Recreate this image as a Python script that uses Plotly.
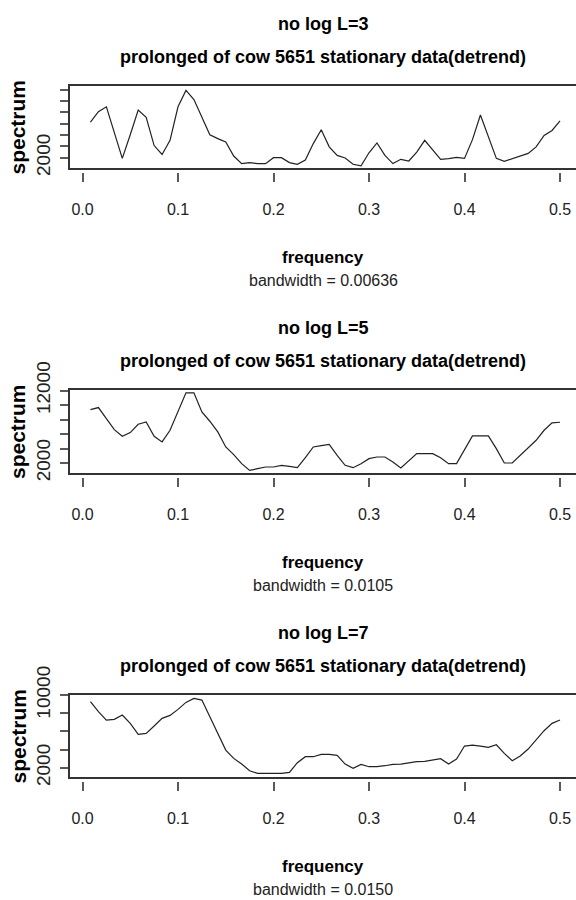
import numpy as np
import plotly.graph_objects as go

# Fourier frequencies k/120, k = 1..60
freq = list(np.arange(1, 61) / 120)

spec_L3 = [8261, 10116, 10985, 6638, 1884, 6058, 10406, 9130, 4145, 2580,
           5072, 10985, 13884, 12261, 9130, 6058, 5362, 4783, 2290, 957,
           1130, 957, 957, 2000, 2000, 1130, 841, 1594, 4493, 6927,
           3913, 2406, 1942, 841, 551, 2870, 4609, 2406, 957, 1710,
           1420, 2985, 5072, 3449, 1710, 1826, 2058, 1884, 5188, 9536,
           5768, 1884, 1362, 1826, 2290, 2754, 3913, 5942, 6812, 8493]

spec_L5 = [9373, 9649, 8129, 6608, 5686, 6193, 7345, 7668, 5686, 4903,
           6516, 9050, 11677, 11677, 9050, 7760, 6285, 4212, 3152, 1908,
           986, 1217, 1447, 1447, 1677, 1539, 1355, 2737, 4212, 4396,
           4580, 3060, 1677, 1355, 1908, 2599, 2829, 2829, 2138, 1309,
           2369, 3290, 3290, 3290, 2737, 1908, 1908, 3751, 5732, 5732,
           5732, 3981, 2000, 2000, 3060, 4212, 5133, 6516, 7530, 7622]

spec_L7 = [9267, 8166, 7248, 7322, 7799, 6881, 5670, 5780, 6588, 7432,
           7762, 8423, 9193, 9634, 9450, 7615, 5670, 3945, 3028, 2404,
           1670, 1376, 1376, 1376, 1376, 1486, 2551, 3211, 3211, 3468,
           3468, 3358, 2404, 1927, 2367, 2110, 2110, 2220, 2367, 2404,
           2551, 2661, 2697, 2881, 2991, 2404, 2954, 4386, 4496, 4386,
           4239, 4532, 3578, 2771, 3285, 4055, 5046, 6074, 6881, 7248]

panel_titles = ["no log L=3", "no log L=5", "no log L=7"]
subtitle = "prolonged of cow 5651 stationary data(detrend)"
bandwidths = ["bandwidth = 0.00636", "bandwidth = 0.0105", "bandwidth = 0.0150"]
x_ticks = [0.0, 0.1, 0.2, 0.3, 0.4, 0.5]
x_ticktext = ["0.0", "0.1", "0.2", "0.3", "0.4", "0.5"]
y_ticks = [[2000, 4000, 6000, 8000, 10000, 12000, 14000],
           [2000, 4000, 6000, 8000, 10000, 12000],
           [2000, 4000, 6000, 8000, 10000]]
y_ticktext = [["2000", "", "", "", "", "", ""],
              ["2000", "", "", "", "", "12000"],
              ["2000", "", "", "", "10000"]]
series = [spec_L3, spec_L5, spec_L7]

# layout geometry (pixels)
W, H = 576, 900
box_left = 70
box_top = [86, 390, 695]
box_bot = [168, 473, 777]
y_ranges = [[182, 14657], [621, 12069], [978, 10005]]
x_range = [-0.01309, 0.51675]
cx = 323

REG = "Liberation Sans, Arial, Helvetica, sans-serif"

def py(p):
    return 1 - p / H

fig = go.Figure()
layout = dict(width=W, height=H, autosize=False,
              margin=dict(l=0, r=0, t=0, b=0, pad=0, autoexpand=False),
              paper_bgcolor="white", plot_bgcolor="white", showlegend=False)
annotations = []

for i in range(3):
    n = i + 1
    xa = "x" if n == 1 else f"x{n}"
    ya = "y" if n == 1 else f"y{n}"
    tn = n + 3
    fig.add_trace(go.Scatter(x=freq, y=series[i], mode="lines",
                             line=dict(color="#222222", width=1.2),
                             xaxis=xa, yaxis=ya, hoverinfo="skip"))
    fig.add_trace(go.Scatter(x=freq, y=series[i], mode="lines",
                             line=dict(color="rgba(0,0,0,0)", width=0),
                             xaxis=f"x{tn}", yaxis=ya, hoverinfo="skip"))
    layout[f"xaxis{n}" if n > 1 else "xaxis"] = dict(
        domain=[box_left / W, 1], range=x_range, anchor=ya, automargin=False,
        showline=True, mirror=True, linecolor="#333333", linewidth=1.6,
        ticks="", showticklabels=False, showgrid=False, zeroline=False)
    layout[f"xaxis{tn}"] = dict(
        overlaying=xa, anchor="free", position=py(box_bot[i] + 4),
        range=x_range, side="bottom", showline=False, showgrid=False,
        automargin=False,
        zeroline=False, ticks="outside", ticklen=9, tickwidth=1.5,
        tickcolor="#5a5a5a", tickvals=x_ticks, ticktext=x_ticktext,
        tickfont=dict(family=REG, size=16, color="#222"),
        ticklabelstandoff=14)
    layout[f"yaxis{n}" if n > 1 else "yaxis"] = dict(
        domain=[py(box_bot[i]), py(box_top[i])], range=y_ranges[i],
        anchor=xa, automargin=False, showline=True, linecolor="#333333",
        linewidth=1.6,
        showgrid=False, zeroline=False, ticks="outside", ticklen=8,
        tickwidth=1.5, tickcolor="#5a5a5a", tickvals=y_ticks[i],
        ticktext=y_ticktext[i], tickangle=-90,
        tickfont=dict(family=REG, size=19, color="#222"),
        ticklabelstandoff=3)
    mid = (box_top[i] + box_bot[i]) / 2
    annotations += [
        dict(text="<b>" + panel_titles[i] + "</b>", x=cx / W, y=py(box_top[i] - 62),
             font=dict(family=REG, size=18, color="black")),
        dict(text="<b>" + subtitle + "</b>", x=cx / W, y=py(box_top[i] - 29),
             font=dict(family=REG, size=18, color="black")),
        dict(text="<b>frequency</b>", x=cx / W, y=py(box_bot[i] + 89),
             font=dict(family=REG, size=17, color="black")),
        dict(text=bandwidths[i], x=cx / W, y=py(box_bot[i] + 112),
             font=dict(family=REG, size=16, color="#222")),
        dict(text="<b>spectrum</b>", x=17.5 / W, y=py(mid), textangle=-90,
             font=dict(family=REG, size=21, color="black")),
    ]

for a in annotations:
    a.update(xref="paper", yref="paper", showarrow=False,
             xanchor="center", yanchor="middle")
layout["annotations"] = annotations
fig.update_layout(**layout)
fig.write_html("out.html")
